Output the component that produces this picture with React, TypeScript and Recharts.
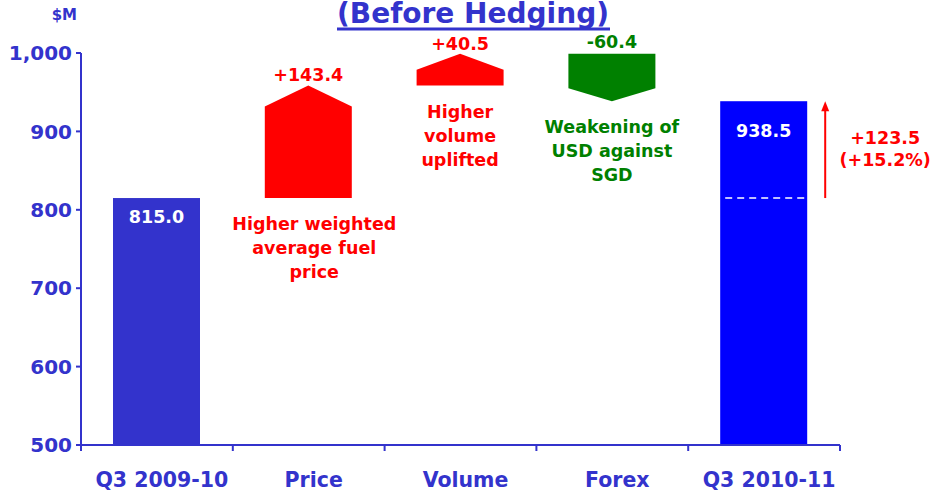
import React from 'react';
import { BarChart, Bar, XAxis, YAxis } from 'recharts';

const categories = ['Q3 2009-10', 'Price', 'Volume', 'Forex', 'Q3 2010-11'];
const kinds = ['total', 'delta', 'delta', 'delta', 'total'];
const amounts = [815.0, 143.4, 40.5, -60.4, 938.5];
const valueLabels = ['815.0', '+143.4', '+40.5', '-60.4', '938.5'];
const notes: string[][] = [
  [],
  ['Higher weighted', 'average fuel', 'price'],
  ['Higher', 'volume', 'uplifted'],
  ['Weakening of', 'USD against', 'SGD'],
  [],
];
const yTicks = [500, 600, 700, 800, 900, 1000];
const changeLabels = ['+123.5', '(+15.2%)'];
const Y_MIN = 500;
const Y_MAX = 1000;

const FILLS = ['#3333CC', '#FF0000', '#FF0000', '#008000', '#0000FF'];
const AXIS = '#3333CC';
const FONT = '"DejaVu Sans", Verdana, sans-serif';
const HEAD_PX = [0, 21, 16, 13, 0];
const VALUE_DY = [25, -5, -4, -6, 36];

let running = 0;
const data = categories.map((name, i) => {
  let range: [number, number];
  if (kinds[i] === 'total') {
    range = [Y_MIN, amounts[i]];
    running = amounts[i];
  } else {
    const a = running;
    const b = running + amounts[i];
    range = [Math.min(a, b), Math.max(a, b)];
    running = b;
  }
  return { name, range, idx: i };
});

const WaterfallShape = (props: any) => {
  const { x, y, width, height, payload } = props;
  const i: number = payload.idx;
  const top = Math.min(y, y + height);
  const h = Math.abs(height);
  const bottom = top + h;
  const cx = x + width / 2;
  const fill = FILLS[i];
  const els: React.ReactNode[] = [];
  if (kinds[i] === 'total') {
    els.push(<rect key="r" x={x} y={top} width={width} height={h} fill={fill} />);
    els.push(
      <text key="v" x={cx} y={top + VALUE_DY[i]} textAnchor="middle" fill="#FFFFFF" fontFamily={FONT} fontWeight="bold" fontSize={17.5}>
        {valueLabels[i]}
      </text>
    );
    if (i === categories.length - 1) {
      const prev = amounts[0];
      const yPrev = bottom - ((prev - Y_MIN) / (amounts[i] - Y_MIN)) * h;
      els.push(
        <line key="d" x1={x + 5} x2={x + width} y1={yPrev} y2={yPrev} stroke="#FFFFFF" strokeWidth={1.5} strokeDasharray="7 5" />
      );
      const ax = x + width + 18;
      els.push(<line key="al" x1={ax} x2={ax} y1={yPrev} y2={top + 8} stroke="#FF0000" strokeWidth={2} />);
      els.push(<polygon key="ah" points={`${ax - 4},${top + 10} ${ax + 4},${top + 10} ${ax},${top}`} fill="#FF0000" />);
      els.push(
        <text key="c1" x={x + width + 78} y={top + 43} textAnchor="middle" fill="#FF0000" fontFamily={FONT} fontWeight="bold" fontSize={17.5}>
          {changeLabels[0]}
        </text>
      );
      els.push(
        <text key="c2" x={x + width + 78} y={top + 65} textAnchor="middle" fill="#FF0000" fontFamily={FONT} fontWeight="bold" fontSize={17.5}>
          {changeLabels[1]}
        </text>
      );
    }
  } else {
    const head = Math.min(HEAD_PX[i], h * 0.6);
    let pts: string;
    if (amounts[i] >= 0) {
      pts = `${x},${bottom} ${x},${top + head} ${cx},${top} ${x + width},${top + head} ${x + width},${bottom}`;
    } else {
      pts = `${x},${top} ${x + width},${top} ${x + width},${bottom - head} ${cx},${bottom} ${x},${bottom - head}`;
    }
    els.push(<polygon key="p" points={pts} fill={fill} />);
    els.push(
      <text key="v" x={cx} y={top + VALUE_DY[i]} textAnchor="middle" fill={fill} fontFamily={FONT} fontWeight="bold" fontSize={17.5}>
        {valueLabels[i]}
      </text>
    );
    notes[i].forEach((line, k) => {
      els.push(
        <text key={'n' + k} x={cx + (i === 1 ? 6 : 0)} y={bottom + 32 + k * 24} textAnchor="middle" fill={fill} fontFamily={FONT} fontWeight="bold" fontSize={17.5}>
          {line}
        </text>
      );
    });
  }
  return <g>{els}</g>;
};

const XTick = (props: any) => {
  const { x, y, payload, index } = props;
  const off = payload && typeof payload.offset === 'number' && payload.offset > 0 ? payload.offset : 76;
  return (
    <g>
      <line x1={x - off} x2={x - off} y1={y} y2={y + 6} stroke={AXIS} strokeWidth={2} />
      {index === categories.length - 1 ? (
        <line x1={x + off} x2={x + off} y1={y} y2={y + 6} stroke={AXIS} strokeWidth={2} />
      ) : null}
      <text x={x + 5} y={y + 42} textAnchor="middle" fill={AXIS} fontFamily={FONT} fontWeight="bold" fontSize={20.5}>
        {payload.value}
      </text>
    </g>
  );
};

export default function App() {
  return (
    <div style={{ position: 'absolute', left: 0, top: 0, width: 938, height: 494, background: '#FFFFFF' }}>
      <BarChart width={938} height={494} data={data} margin={{ top: 53, right: 98, left: 0, bottom: 19 }}>
        <XAxis
          dataKey="name"
          height={30}
          tickSize={0}
          tickMargin={0}
          tickLine={false}
          axisLine={{ stroke: AXIS, strokeWidth: 2 }}
          tick={<XTick />}
          interval={0}
        />
        <YAxis
          width={81}
          domain={[Y_MIN, Y_MAX]}
          ticks={yTicks}
          interval={0}
          tickSize={5}
          tickMargin={4}
          axisLine={{ stroke: AXIS, strokeWidth: 2 }}
          tickLine={{ stroke: AXIS, strokeWidth: 2 }}
          tick={{ fill: AXIS, fontFamily: FONT, fontWeight: 'bold', fontSize: 20 }}
          tickFormatter={(v: number) => v.toLocaleString('en-US')}
        />
        <Bar dataKey="range" barSize={87} isAnimationActive={false} shape={<WaterfallShape />} />
      </BarChart>
      <svg width={938} height={60} style={{ position: 'absolute', left: 0, top: 0, pointerEvents: 'none' }}>
        <text x={473} y={23} textAnchor="middle" fill={AXIS} fontFamily={FONT} fontWeight="bold" fontSize={28}>
          (Before Hedging)
        </text>
        <line x1={337} x2={610} y1={29} y2={29} stroke={AXIS} strokeWidth={3} />
        <text x={77} y={20} textAnchor="end" fill={AXIS} fontFamily={FONT} fontWeight="bold" fontSize={15}>
          $M
        </text>
      </svg>
    </div>
  );
}
